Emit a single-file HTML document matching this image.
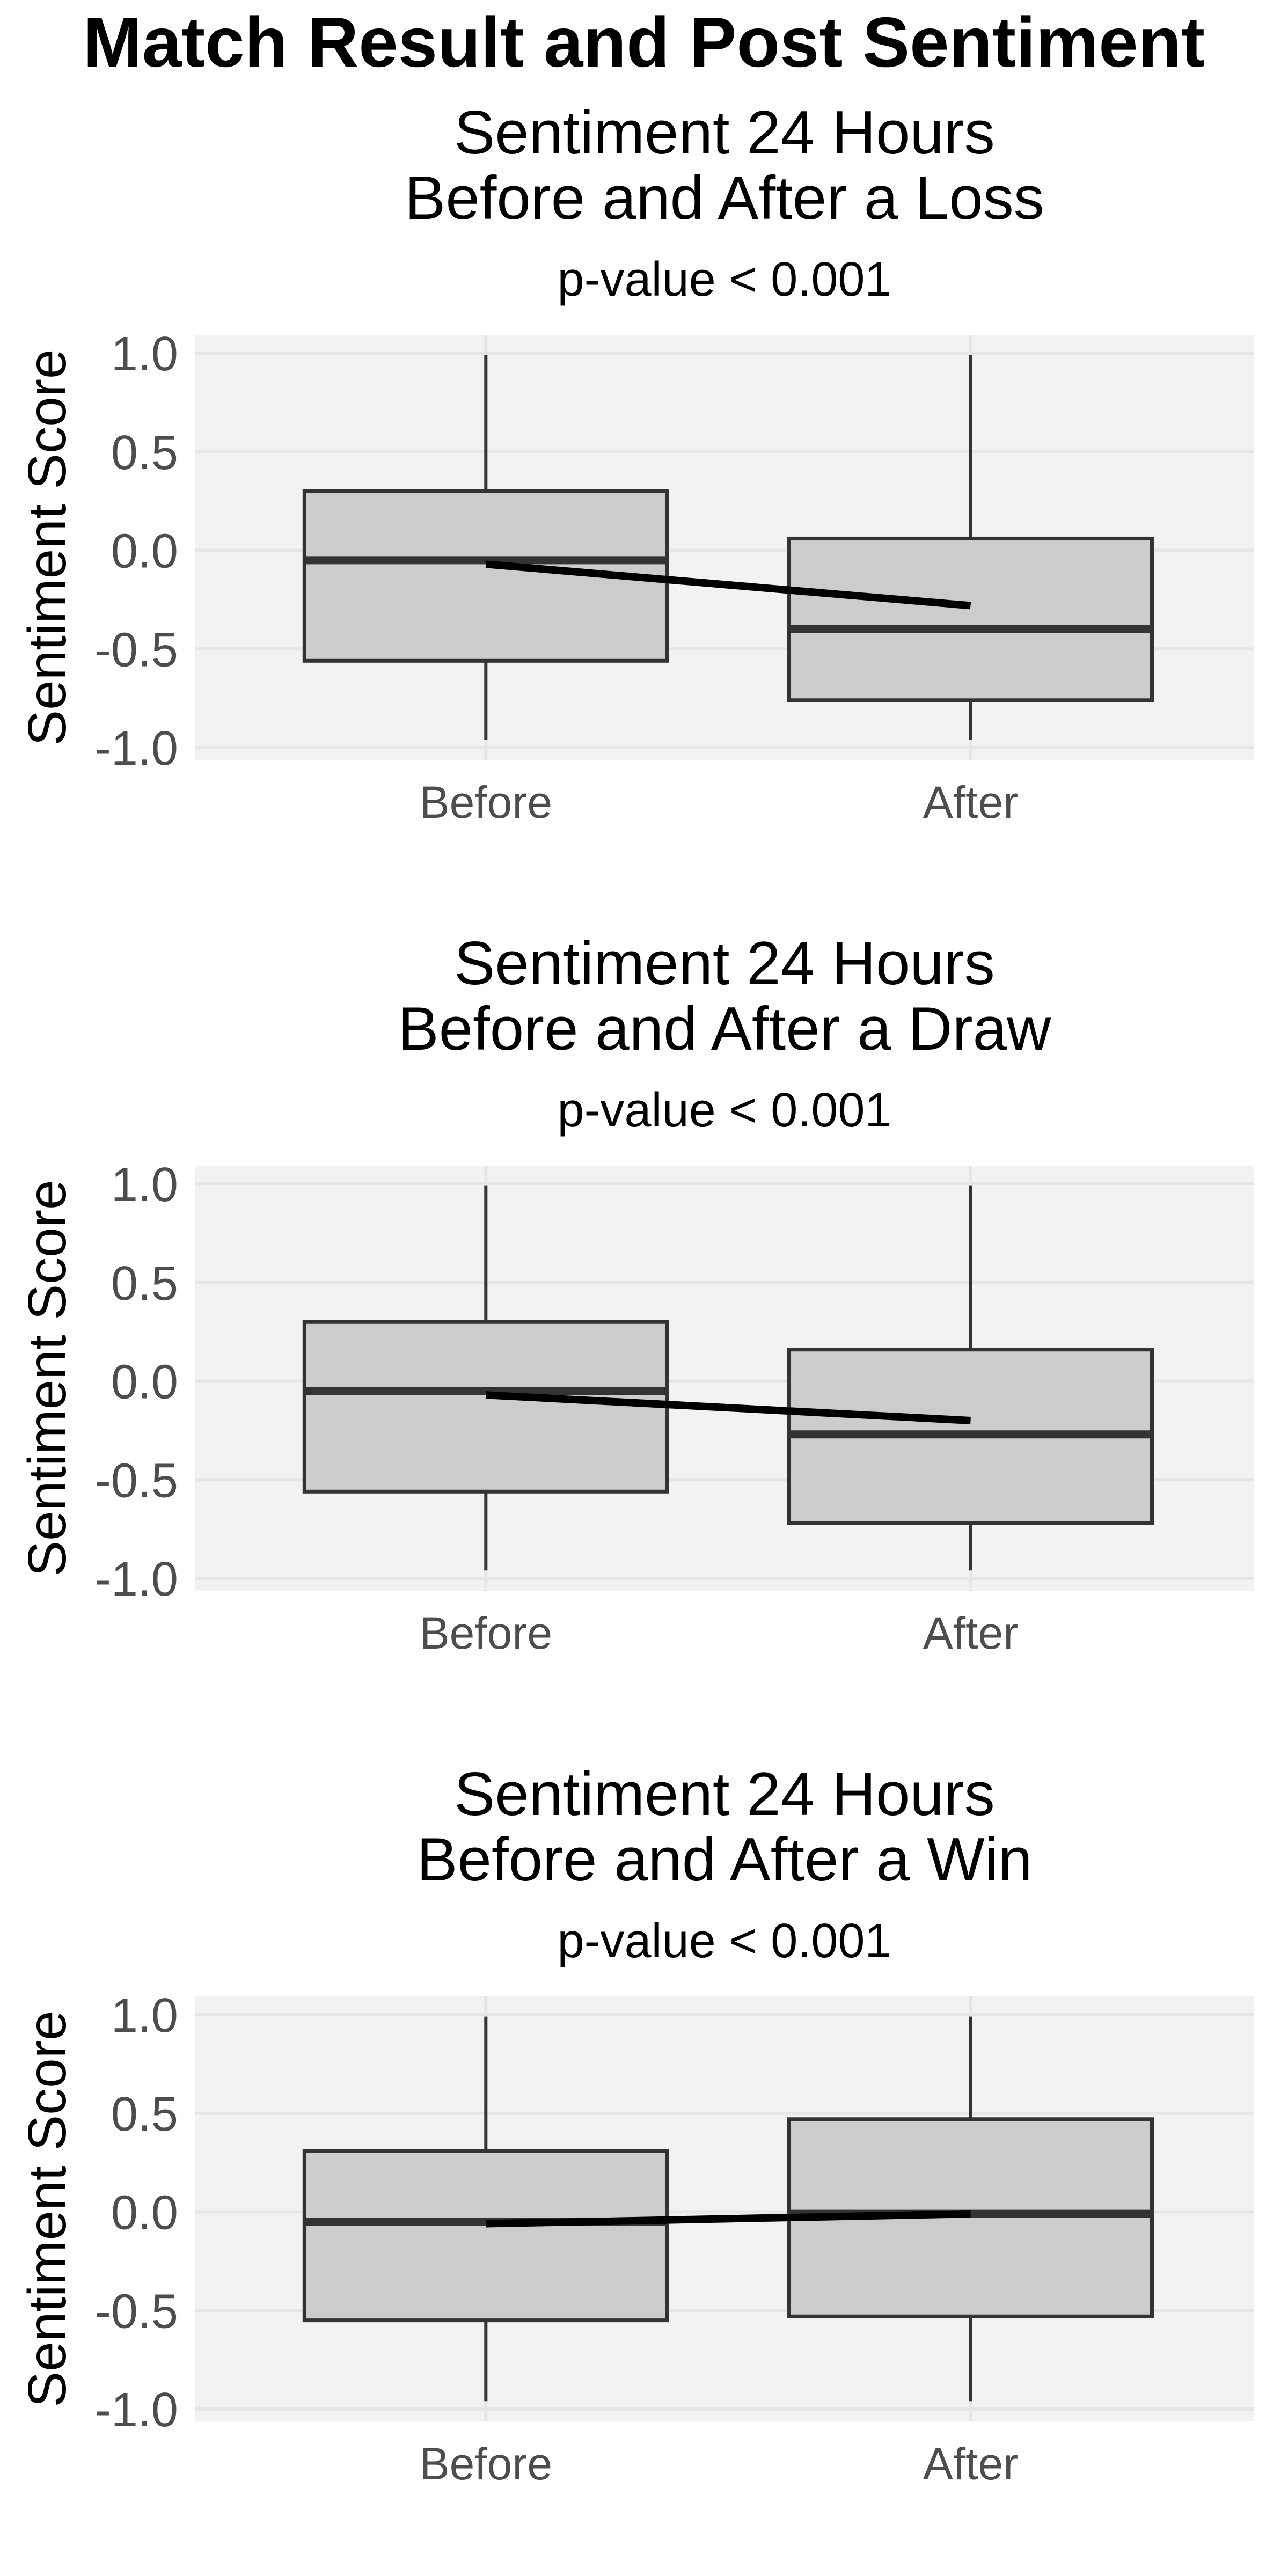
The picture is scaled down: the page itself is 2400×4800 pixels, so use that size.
<!DOCTYPE html>
<html><head><meta charset="utf-8">
<style>
html,body{margin:0;padding:0;background:#fff;}
svg{display:block;font-family:"Liberation Sans",Arial,sans-serif;}
</style></head>
<body>
<svg id="chart" width="2400" height="4800" viewBox="0 0 2400 4800" xmlns="http://www.w3.org/2000/svg">
<text x="1200" y="124" text-anchor="middle" font-size="132" font-weight="bold" fill="#000">Match Result and Post Sentiment</text>
</svg>
<script>
const panelTitles = ["Before and After a Loss","Before and After a Draw","Before and After a Win"];
const pvalues = ["p-value < 0.001","p-value < 0.001","p-value < 0.001"];
const categories = ["Before","After"];
const whiskerHigh = [[0.99,0.99],[0.99,0.99],[0.99,0.99]];
const q3 = [[0.30,0.06],[0.30,0.16],[0.31,0.47]];
const median = [[-0.05,-0.40],[-0.05,-0.27],[-0.05,-0.01]];
const q1 = [[-0.56,-0.76],[-0.56,-0.72],[-0.55,-0.53]];
const whiskerLow = [[-0.96,-0.96],[-0.96,-0.96],[-0.96,-0.96]];
const means = [[-0.07,-0.28],[-0.07,-0.20],[-0.06,-0.01]];
const yTicks = [1.0,0.5,0.0,-0.5,-1.0];
const yTickLabels = ["1.0","0.5","0.0","-0.5","-1.0"];

const svg = document.getElementById('chart');
const NS = 'http://www.w3.org/2000/svg';
function mk(tag, attrs, parent){const e=document.createElementNS(NS,tag);for(const k in attrs)e.setAttribute(k,attrs[k]);(parent||svg).appendChild(e);return e;}

const PL=364, PR=2336, OFF=1548;
const xPos = i => PL + (PR-PL)*(i===0?0.2745:0.7325);
const halfW = 338;

panelTitles.forEach((t,p)=>{
  const oy = p*OFF;
  const top = 624+oy, bot = 1416+oy;
  const y = v => (658+oy) + (1.0-v)*(1393-658)/2;
  const g = mk('g',{});
  
  
  const t1 = mk('text',{x:1350,y:286+oy,'text-anchor':'middle','font-size':114,fill:'#000'},g);
  t1.textContent='Sentiment 24 Hours';
  
  
  const t2 = mk('text',{x:1350,y:408+oy,'text-anchor':'middle','font-size':114,fill:'#000'},g);
  t2.textContent=t;
  
  
  const pv = mk('text',{x:1350,y:551+oy,'text-anchor':'middle','font-size':90,fill:'#000'},g);
  pv.textContent=pvalues[p];
  
  
  const bg = mk('rect',{x:PL,y:top,width:PR-PL,height:bot-top,fill:'#f2f2f2'},g);
  
  
  yTicks.forEach((v,i)=>{
    const gl = mk('line',{x1:PL,x2:PR,y1:y(v),y2:y(v),stroke:'#e6e6e6','stroke-width':6},g);
    
    
    const tl = mk('text',{x:332,y:y(v)+32,'text-anchor':'end','font-size':90,fill:'#4d4d4d'},g);
    tl.textContent=yTickLabels[i];
    
    
  });
  categories.forEach((c,i)=>{
    const gl = mk('line',{x1:xPos(i),x2:xPos(i),y1:top,y2:bot,stroke:'#e6e6e6','stroke-width':6},g);
    
    
  });
  categories.forEach((c,i)=>{
    const cx = xPos(i);
    const w = mk('line',{x1:cx,x2:cx,y1:y(whiskerHigh[p][i]),y2:y(whiskerLow[p][i]),stroke:'#333','stroke-width':6},g);
    
    
    const b = mk('rect',{x:cx-halfW,y:y(q3[p][i]),width:2*halfW,height:y(q1[p][i])-y(q3[p][i]),fill:'#cccccc',stroke:'#333','stroke-width':7},g);
    
    
    const m = mk('line',{x1:cx-halfW,x2:cx+halfW,y1:y(median[p][i]),y2:y(median[p][i]),stroke:'#333','stroke-width':15},g);
    
    
    const xl = mk('text',{x:cx,y:1524+oy,'text-anchor':'middle','font-size':84,fill:'#4d4d4d'},g);
    xl.textContent=c;
    
    
  });
  const ml = mk('line',{x1:xPos(0),x2:xPos(1),y1:y(means[p][0]),y2:y(means[p][1]),stroke:'#000','stroke-width':14},g);
  
  
  const cy=(top+bot)/2;
  const at = mk('text',{x:0,y:0,'text-anchor':'middle','font-size':100,fill:'#000',transform:`translate(122,${cy}) rotate(-90)`},g);
  at.textContent='Sentiment Score';
  
  
});
</script>
</body></html>
